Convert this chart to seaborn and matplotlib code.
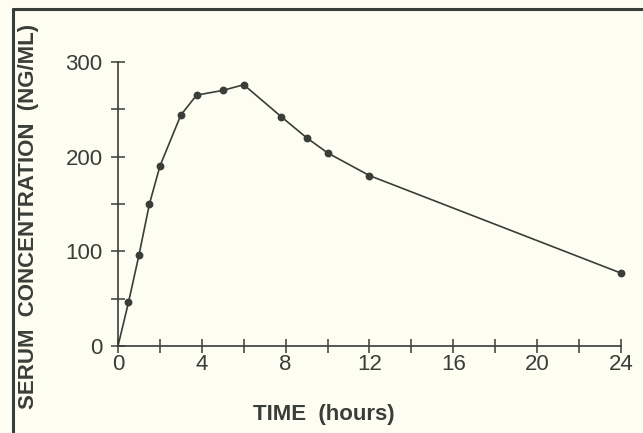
import numpy as np
import pandas as pd
import seaborn as sns
import matplotlib.pyplot as plt
from matplotlib.lines import Line2D
from matplotlib.ticker import MultipleLocator

# serum concentration readings
hours = [0, 0.5, 1, 1.5, 2, 3, 3.75, 5, 6, 7.8, 9, 10, 12, 24]
conc = [0, 46, 96, 150, 190, 244, 265, 270, 276, 242, 220, 204, 180, 77]
x_ticks = [0, 4, 8, 12, 16, 20, 24]
y_ticks = [0, 100, 200, 300]

ink = "#3a3e39"
paper = "#fdfdf1"

df = pd.DataFrame({"time": hours, "conc": conc})

sns.set_style("white")
plt.rcParams["font.family"] = ["Liberation Sans", "DejaVu Sans"]

fig = plt.figure(figsize=(6.43, 4.33), dpi=100, facecolor=paper)
ax = fig.add_axes([0.1835, 0.2009, 0.7823, 0.6559])
ax.set_facecolor(paper)

# line from the origin, dots on every reading after it
sns.lineplot(data=df, x="time", y="conc", ax=ax, color=ink, linewidth=1.2,
             clip_on=False)
sns.scatterplot(data=df.iloc[1:], x="time", y="conc", ax=ax, color=ink, s=32,
                edgecolor=ink, linewidth=0, clip_on=False, zorder=3)

ax.set_xlim(0, 24)
ax.set_ylim(0, 300)
ax.set_xticks(x_ticks)
ax.set_yticks(y_ticks)
ax.xaxis.set_minor_locator(MultipleLocator(2))
ax.yaxis.set_minor_locator(MultipleLocator(50))
ax.tick_params(which="both", bottom=True, left=True, direction="inout",
               length=10, width=1.1, color=ink, labelcolor=ink, labelsize=16)
ax.tick_params(axis="y", pad=6)
ax.tick_params(axis="x", pad=1)

for s in ["top", "right"]:
    ax.spines[s].set_visible(False)
for s in ["left", "bottom"]:
    ax.spines[s].set_color(ink)
    ax.spines[s].set_linewidth(1.2)

ax.set_xlabel("")
ax.set_ylabel("")
fig.text(0.504, 0.042, "TIME  (hours)", ha="center", va="center",
         fontsize=16, fontweight="bold", color=ink)
fig.text(0.044, 0.5, "SERUM  CONCENTRATION  (NG/ML)", ha="center",
         va="center", rotation=90, fontsize=16, fontweight="bold", color=ink)

# frame lines at the top and left edge of the page
fig.add_artist(Line2D([0.02, 1.0], [0.979, 0.979], color=ink, linewidth=2.2))
fig.add_artist(Line2D([0.02, 0.02], [0.0, 0.979], color=ink, linewidth=2.2))

fig.savefig("out.png", dpi=100, facecolor=paper)
